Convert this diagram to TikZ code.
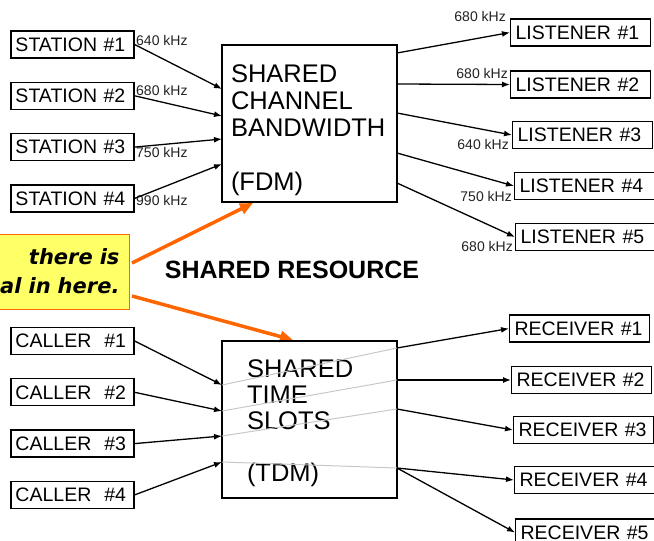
\documentclass[tikz,border=0pt]{standalone}
\usepackage{fontspec}
\setmainfont{Liberation Sans}
\newfontfamily\notefont{DejaVu Sans}
\usetikzlibrary{arrows.meta,positioning}
\definecolor{pointorange}{HTML}{FF6600}
\definecolor{noteyellow}{HTML}{FFFF66}
\definecolor{slotgray}{HTML}{C8C8C8}
\definecolor{labeltext}{HTML}{222222}

\begin{document}
\begin{tikzpicture}[x=1pt,y=-1pt,
  node distance=23pt,
  box/.style={draw=black,line width=1.3pt,inner ysep=0pt,minimum height=27pt,
              align=left,font=\fontsize{19.5}{20}\selectfont},
  src/.style={box,text width=114pt,inner xsep=4.5pt},
  dst/.style={box,anchor=west,text width=130pt,inner xsep=5pt},
  chan/.style={draw=black,line width=1.3pt,minimum height=157pt,align=left,
               font=\fontsize{25.5}{27}\selectfont},
  freq/.style={inner sep=0pt,text=labeltext,font=\fontsize{14}{14}\selectfont},
  note/.style={draw=pointorange,line width=1pt,fill=noteyellow,anchor=east,
               text width=140pt,align=right,inner xsep=10pt,minimum height=75pt,
               font=\notefont\bfseries\itshape\fontsize{21}{29}\selectfont},
  arrow/.style={-{Latex[length=8pt,width=6pt]},line width=1.3pt},
  slot/.style={draw=slotgray,line width=1pt},
  pointer/.style={-{Triangle[length=13pt,width=11pt]},line width=3.5pt,draw=pointorange}]
\useasboundingbox (0,0) rectangle (654,541);

% FDM half
\node[src] (st1) at (72.5,44.5) {STATION \#1};
\node[src,below=of st1] (st2) {STATION \#2};
\node[src,below=of st2] (st3) {STATION \#3};
\node[src,below=of st3] (st4) {STATION \#4};
\node[chan,text width=157pt,inner xsep=9pt] (fdm) at (309.5,123.5)
  {\rule{0pt}{31pt}SHARED\\CHANNEL\\BANDWIDTH\\[\baselineskip](FDM)};
\node[dst] (ls1) at (510,32.5) {LISTENER \#1};
\node[dst] (ls2) at (510,84.5) {LISTENER \#2};
\node[dst] (ls3) at (512,135) {LISTENER \#3};
\node[dst] (ls4) at (514,186) {LISTENER \#4};
\node[dst] (ls5) at (515,237) {LISTENER \#5};

\node[freq,anchor=west] (fa1) at (136,40) {640 kHz};
\node[freq,anchor=west] (fa2) at (136,90) {680 kHz};
\node[freq,anchor=west] (fa3) at (136,152) {750 kHz};
\node[freq,anchor=west] (fa4) at (136,200) {990 kHz};
\node[freq,anchor=east] (fb1) at (506,16) {680 kHz};
\node[freq,anchor=east] (fb2) at (508,73) {680 kHz};
\node[freq,anchor=east] (fb3) at (509,144) {640 kHz};
\node[freq,anchor=east] (fb4) at (512,196) {750 kHz};
\node[freq,anchor=east] (fb5) at (513,246) {680 kHz};

\foreach \i/\y in {1/89,2/116,3/139,4/164}
  \coordinate (fin\i) at (222,\y);
\foreach \i/\y in {1/53,2/84,3/113,4/153,5/183}
  \coordinate (fout\i) at (397,\y);
\foreach \i in {1,...,4}
  \draw[arrow] (st\i.east) -- (fin\i);
\foreach \i in {1,...,5}
  \draw[arrow] (fout\i) -- (ls\i.west);

% callout
\node[note] (note) at (130,271.5) {there is\\al in here.};
\node[font=\bfseries\fontsize{25}{25}\selectfont] (res) at (292,270) {SHARED RESOURCE};
\coordinate (ob1) at (132,263);
\coordinate (ob2) at (132,296);
\coordinate (fdmhit) at (253,203);
\coordinate (tdmhit) at (293,340);
\draw[pointer] (ob1) -- (fdmhit);
\draw[pointer] (ob2) -- (tdmhit);

% TDM half
\node[src] (cl1) at (72.5,341) {CALLER\ \ \#1};
\node[src,below=of cl1] (cl2) {CALLER\ \ \#2};
\node[src,below=of cl2] (cl3) {CALLER\ \ \#3};
\node[src,below=of cl3] (cl4) {CALLER\ \ \#4};
\node[chan,text width=125pt,inner xsep=25pt,font=\fontsize{25.5}{26}\selectfont] (tdm)
  at (309.5,419.5) {\rule{0pt}{26pt}SHARED\\TIME\\SLOTS\\[\baselineskip](TDM)};
\node[dst] (rc1) at (509,328.5) {RECEIVER \#1};
\node[dst] (rc2) at (511,380) {RECEIVER \#2};
\node[dst] (rc3) at (513,430) {RECEIVER \#3};
\node[dst] (rc4) at (514,480) {RECEIVER \#4};
\node[dst] (rc5) at (515,532.5) {RECEIVER \#5};

\foreach \i/\y in {1/385,2/411,3/436,4/462}
  \coordinate (tin\i) at (222,\y);
\foreach \i/\y in {1/348,2/380,3/409,4/468}
  \coordinate (tout\i) at (397,\y);
\foreach \i in {1,...,4}
  \draw[slot] (tin\i) -- (tout\i);
\foreach \i in {1,...,4}
  \draw[arrow] (cl\i.east) -- (tin\i);
\foreach \a/\b in {tout1/rc1,tout2/rc2,tout3/rc3,tout4/rc4,tout4/rc5}
  \draw[arrow] (\a) -- (\b.west);
\end{tikzpicture}
\end{document}
